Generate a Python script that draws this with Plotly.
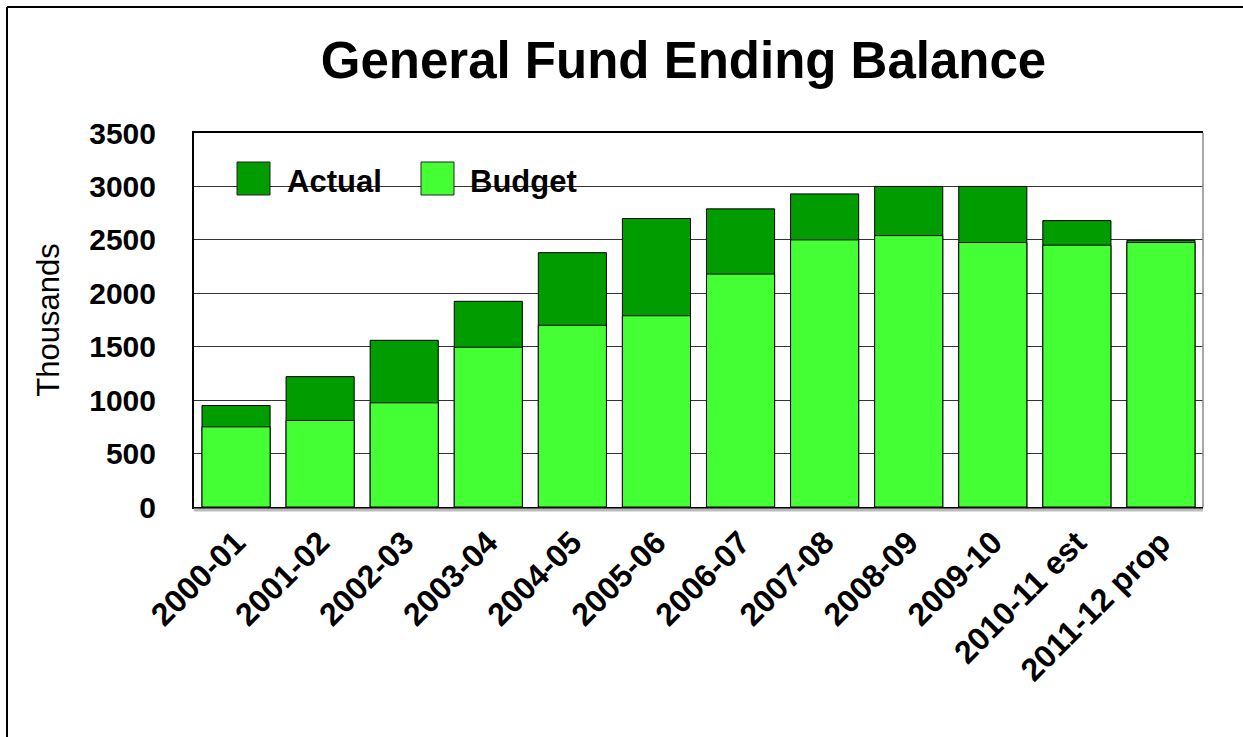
import plotly.graph_objects as go

years = ["2000-01", "2001-02", "2002-03", "2003-04", "2004-05", "2005-06",
         "2006-07", "2007-08", "2008-09", "2009-10", "2010-11 est", "2011-12 prop"]
actual = [950, 1220, 1560, 1925, 2380, 2700, 2790, 2930, 3000, 3000, 2680, 2495]
budget = [750, 810, 975, 1495, 1700, 1790, 2180, 2500, 2540, 2475, 2450, 2475]

DARK = "#009c00"
LIGHT = "#44ff33"
FONT = "Liberation Sans, Arial, sans-serif"

W, H = 1243, 737
L, R, T, B = 194, 40, 133, 230
PW, PH = W - L - R, H - T - B


def px(x):
    return (x - L) / PW


def py(y):
    return (H - B - y) / PH


fig = go.Figure()
fig.add_trace(go.Bar(x=years, y=actual, name="Actual", marker_color=DARK,
                     marker_line=dict(color="black", width=1), width=0.81))
fig.add_trace(go.Bar(x=years, y=budget, name="Budget", marker_color=LIGHT,
                     marker_line=dict(color="black", width=1), width=0.81))

shapes = []
# slide frame (top and left)
shapes.append(dict(type="line", xref="paper", yref="paper", x0=px(7), x1=px(W + 5),
                   y0=py(7), y1=py(7), line=dict(color="black", width=2)))
shapes.append(dict(type="line", xref="paper", yref="paper", x0=px(7), x1=px(7),
                   y0=py(7), y1=py(H + 5), line=dict(color="black", width=2)))
# floor shadow
shapes.append(dict(type="line", xref="paper", yref="paper", x0=0, x1=1.0,
                   y0=py(H - B + 3), y1=py(H - B + 3), line=dict(color="#bbbbbb", width=3)))
# right border gray
shapes.append(dict(type="line", xref="paper", yref="paper", x0=1, x1=1,
                   y0=0, y1=1, line=dict(color="#888888", width=1.5)))
# legend swatches
for x0, col in [(237, DARK), (421, LIGHT)]:
    shapes.append(dict(type="rect", xref="paper", yref="paper", x0=px(x0), x1=px(x0 + 33),
                       y0=py(195), y1=py(162), fillcolor=col,
                       line=dict(color="#222222", width=1), layer="above"))

annotations = [
    dict(text="Actual", xref="paper", yref="paper", x=px(285), y=py(181),
         xanchor="left", yanchor="middle", showarrow=False,
         font=dict(family=FONT, size=31, color="black", weight="bold")),
    dict(text="Budget", xref="paper", yref="paper", x=px(468), y=py(181),
         xanchor="left", yanchor="middle", showarrow=False,
         font=dict(family=FONT, size=31, color="black", weight="bold")),
]

fig.update_layout(
    width=W, height=H,
    margin=dict(l=L, r=R, t=T, b=B, pad=0),
    paper_bgcolor="white", plot_bgcolor="white",
    barmode="overlay", showlegend=False,
    title=dict(text="<b>General Fund Ending Balance</b>", x=683.5 / W, xanchor="center",
               xref="container", yref="container", y=1 - 60 / H, yanchor="middle",
               font=dict(family=FONT, size=51, color="black")),
    shapes=shapes, annotations=annotations,
    font=dict(family=FONT, color="black"),
)

fig.update_xaxes(
    type="category",
    showline=True, linecolor="black", linewidth=2, mirror=True,
    tickangle=-45, ticks="", ticklabelstandoff=2,
    tickfont=dict(family=FONT, size=32, color="black", weight="bold"),
    showgrid=False,
)
fig.update_yaxes(
    range=[0, 3500], dtick=500, showline=True, linecolor="black", linewidth=2,
    showgrid=True, gridcolor="#333333", gridwidth=1.2,
    ticks="", ticklabelstandoff=30,
    tickfont=dict(family=FONT, size=30, color="black", weight="bold"),
    title=dict(text="Thousands", standoff=20,
               font=dict(family=FONT, size=31, color="black")),
    zeroline=False,
)

fig.write_html("out.html")
